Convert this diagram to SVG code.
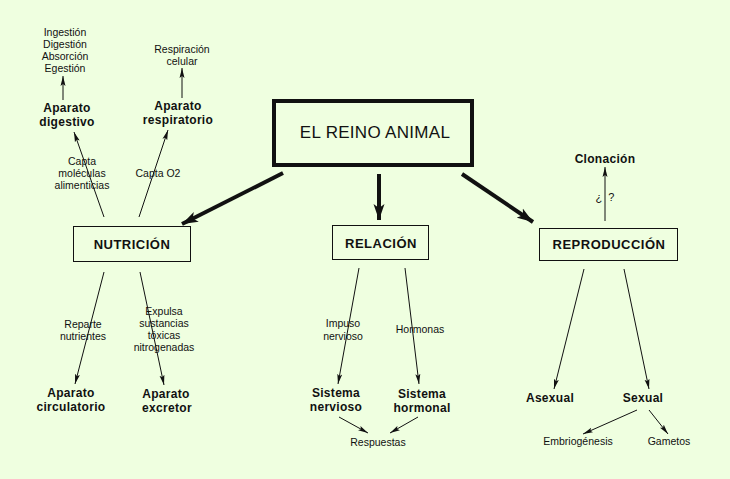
<svg xmlns="http://www.w3.org/2000/svg" width="730" height="479" viewBox="0 0 730 479">
<style>
text{font-family:"Liberation Sans",Arial,sans-serif;fill:#111;text-anchor:middle}
.s{font-size:10.5px}
.b{font-size:12px;font-weight:bold;letter-spacing:0.3px}
.bx{font-size:13px;font-weight:bold;letter-spacing:0.5px}
.t{font-size:17px;letter-spacing:0.3px}
.box{fill:none;stroke:#111;stroke-width:1}
.thin{stroke:#111;stroke-width:1;fill:none;marker-end:url(#ah)}
.thick{stroke:#111;stroke-width:4;fill:none;marker-end:url(#ahb)}
</style>
<defs>
<marker id="ah" markerUnits="userSpaceOnUse" markerWidth="11" markerHeight="6" refX="10" refY="3" orient="auto">
<polygon points="0,0.5 10,3 0,5.5 2,3" fill="#111"/>
</marker>
<marker id="ahb" markerUnits="userSpaceOnUse" markerWidth="17" markerHeight="12" refX="16" refY="6" orient="auto">
<polygon points="0,0.5 16,6 0,11.5 4,6" fill="#111"/>
</marker>
</defs>
<rect x="0" y="0" width="730" height="479" fill="#EFFFE0"/>

<g id="connectors">
<line class="thick" x1="283" y1="173" x2="182" y2="224"/>
<line class="thick" x1="379" y1="174" x2="379" y2="220"/>
<line class="thick" x1="462" y1="174" x2="533" y2="222"/>
<line class="thin" x1="63" y1="100" x2="63" y2="76"/>
<line class="thin" x1="182" y1="98" x2="182" y2="68"/>
<line class="thin" x1="104" y1="217" x2="74" y2="132"/>
<line class="thin" x1="139" y1="217" x2="168" y2="130"/>
<line class="thin" x1="104" y1="272" x2="75" y2="384"/>
<line class="thin" x1="140" y1="272" x2="164" y2="385"/>
<line class="thin" x1="359" y1="268" x2="338" y2="384"/>
<line class="thin" x1="405" y1="268" x2="419" y2="384"/>
<line class="thin" x1="339" y1="417" x2="368" y2="433"/>
<line class="thin" x1="418" y1="417" x2="390" y2="433"/>
<line class="thin" x1="605" y1="221" x2="605" y2="167"/>
<line class="thin" x1="584" y1="269" x2="554" y2="389"/>
<line class="thin" x1="624" y1="269" x2="649" y2="389"/>
<line class="thin" x1="637" y1="410" x2="583" y2="434"/>
<line class="thin" x1="649" y1="410" x2="668" y2="434"/>
</g>

<g id="edge-labels">
<text class="s" x="82" y="165">Capta</text>
<text class="s" x="82" y="177">moléculas</text>
<text class="s" x="82" y="189">alimenticias</text>
<text class="s" x="158" y="177">Capta O2</text>
<text class="s" x="83" y="328">Reparte</text>
<text class="s" x="83" y="340">nutrientes</text>
<text class="s" x="164" y="315">Expulsa</text>
<text class="s" x="164" y="327">sustancias</text>
<text class="s" x="164" y="339">tóxicas</text>
<text class="s" x="164" y="351">nitrogenadas</text>
<text class="s" x="343" y="327">Impuso</text>
<text class="s" x="343" y="340">nervioso</text>
<text class="s" x="420" y="333">Hormonas</text>
<text class="s" x="605" y="201" style="font-size:11px" xml:space="preserve">¿  ?</text>
</g>

<g id="n-main">
<rect x="274" y="101" width="198" height="64" fill="none" stroke="#111" stroke-width="4"/>
<text class="t" x="375" y="138">EL REINO ANIMAL</text>
</g>
<g id="n-nutricion">
<rect class="box" x="73.5" y="226.5" width="117" height="35"/>
<text class="bx" x="132" y="249">NUTRICIÓN</text>
</g>
<g id="n-relacion">
<rect class="box" x="332.5" y="225.5" width="96" height="34"/>
<text class="bx" x="381" y="248">RELACIÓN</text>
</g>
<g id="n-reproduccion">
<rect class="box" x="539.5" y="228.5" width="138" height="32"/>
<text class="bx" x="609" y="249">REPRODUCCIÓN</text>
</g>
<g id="n-funciones-dig">
<text class="s" x="65" y="36">Ingestión</text>
<text class="s" x="65" y="48">Digestión</text>
<text class="s" x="65" y="60">Absorción</text>
<text class="s" x="65" y="72">Egestión</text>
</g>
<g id="n-resp-celular">
<text class="s" x="182" y="53">Respiración</text>
<text class="s" x="182" y="65">celular</text>
</g>
<g id="n-digestivo">
<text class="b" x="67" y="112">Aparato</text>
<text class="b" x="67" y="126">digestivo</text>
</g>
<g id="n-respiratorio">
<text class="b" x="178" y="110">Aparato</text>
<text class="b" x="178" y="124">respiratorio</text>
</g>
<g id="n-circulatorio">
<text class="b" x="71" y="397">Aparato</text>
<text class="b" x="71" y="411">circulatorio</text>
</g>
<g id="n-excretor">
<text class="b" x="166" y="398">Aparato</text>
<text class="b" x="167" y="412">excretor</text>
</g>
<g id="n-nervioso">
<text class="b" x="336" y="397">Sistema</text>
<text class="b" x="336" y="411">nervioso</text>
</g>
<g id="n-hormonal">
<text class="b" x="422" y="398">Sistema</text>
<text class="b" x="422" y="412">hormonal</text>
</g>
<g id="n-respuestas">
<text class="s" x="378" y="446">Respuestas</text>
</g>
<g id="n-clonacion">
<text class="b" x="605" y="163">Clonación</text>
</g>
<g id="n-asexual">
<text class="b" x="550" y="402">Asexual</text>
</g>
<g id="n-sexual">
<text class="b" x="643" y="402">Sexual</text>
</g>
<g id="n-embriogenesis">
<text class="s" x="578" y="445">Embriogénesis</text>
</g>
<g id="n-gametos">
<text class="s" x="669" y="445">Gametos</text>
</g>
</svg>
